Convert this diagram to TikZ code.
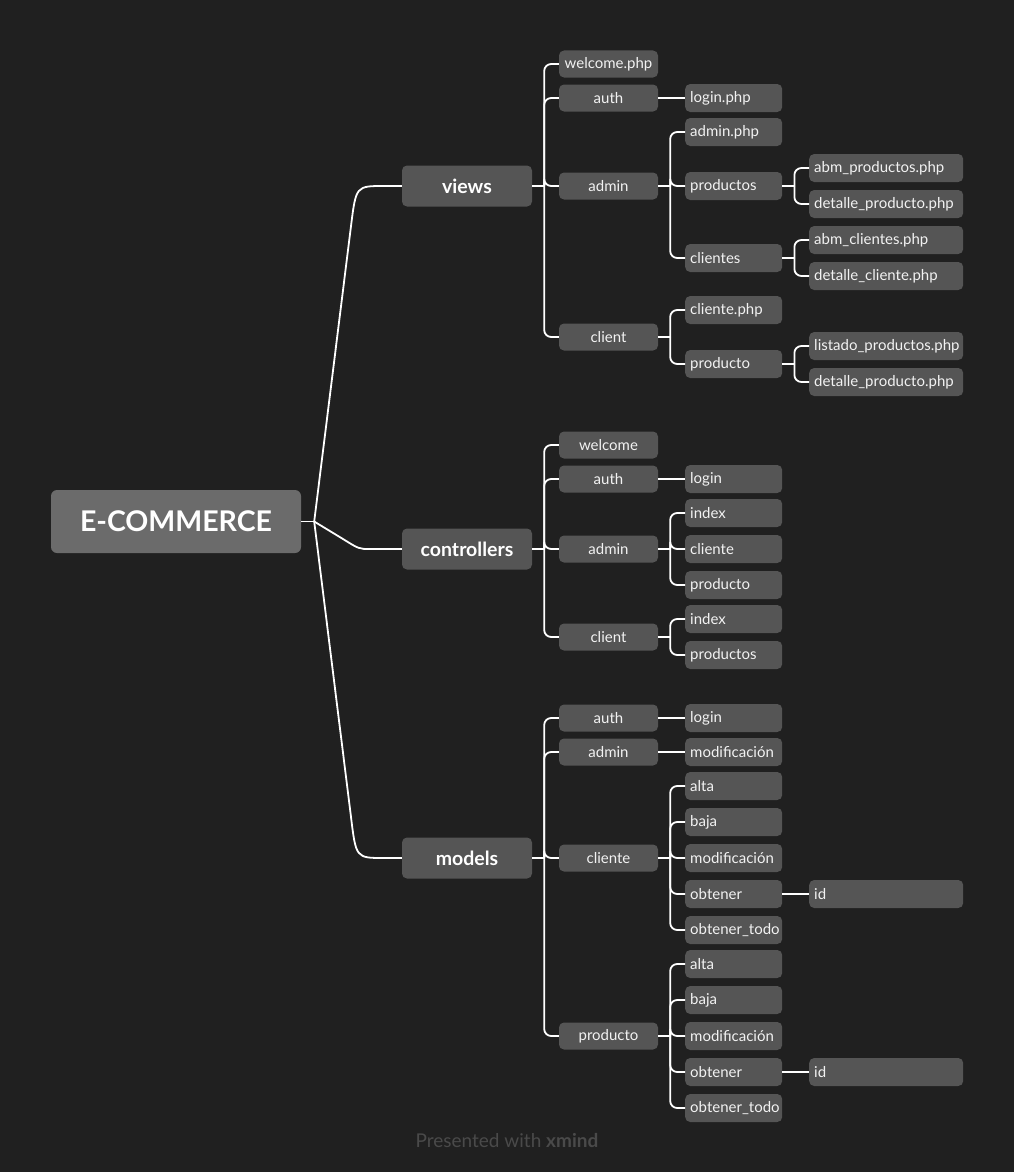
\documentclass[tikz,border=0pt]{standalone}
\usepackage{fontspec}
\setmainfont{Lato}
\usetikzlibrary{calc}
\definecolor{bgc}{HTML}{202020}
\definecolor{rootc}{HTML}{6B6B6B}
\definecolor{boxc}{HTML}{555555}
\definecolor{footc}{HTML}{4A4A4A}
\definecolor{txtc}{HTML}{F2F2F2}
\tikzset{
  rootbox/.style={fill=rootc, rounded corners=6pt, minimum width=250pt, minimum height=63pt, inner sep=0pt, text=white, font=\fontsize{28.5}{32}\selectfont\bfseries},
  lonebox/.style={fill=boxc, rounded corners=5pt, minimum width=130pt, minimum height=41pt, inner sep=0pt, text=white, font=\fontsize{19.5}{22}\selectfont\bfseries},
  ltwobox/.style={fill=boxc, rounded corners=5pt, minimum width=99pt, minimum height=27pt, inner sep=0pt, text=txtc, font=\fontsize{15}{17}\selectfont},
  lthreebox/.style={fill=boxc, rounded corners=5pt, anchor=west, text width=87pt, align=left, inner xsep=5pt, inner ysep=0pt, minimum height=28pt, text=txtc, font=\fontsize{15}{17}\selectfont},
  lfourbox/.style={lthreebox, text width=144pt},
  conn/.style={draw=white, line width=1.8pt},
}
\newcommand\branchto[2]{%
  \coordinate (#1-j) at ([xshift=12pt]#1.east);
  \draw[conn] (#1.east) -- (#1-j);
  \foreach \c in {#2}{\draw[conn, rounded corners=7pt] (#1-j) |- (\c.west);}
}
\newcommand\linkto[2]{\draw[conn] (#1.east) -- (#2.west);}
\begin{document}
\begin{tikzpicture}[x=1pt,y=-1pt]
\fill[bgc] (0,0) rectangle (1014,1172);
\useasboundingbox (0,0) rectangle (1014,1172);

% root and level 1
\node[rootbox] (R) at (176,521.5) {E-COMMERCE};
\node[lonebox] (V) at (467,186) {views};
\node[lonebox] (C) at (467,549) {controllers};
\node[lonebox] (M) at (467,858) {models};

% views
\node[ltwobox] (V1) at (608.5,64) {welcome.php};
\node[ltwobox] (V2) at (608.5,98) {auth};
\node[ltwobox] (V3) at (608.5,186) {admin};
\node[ltwobox] (V4) at (608.5,337) {client};
\node[lthreebox] (V2a) at (685,98) {login.php};
\node[lthreebox] (V3a) at (685,132) {admin.php};
\node[lthreebox] (V3b) at (685,186) {productos};
\node[lthreebox] (V3c) at (685,258) {clientes};
\node[lthreebox] (V4a) at (685,310) {cliente.php};
\node[lthreebox] (V4b) at (685,364) {producto};
\node[lfourbox] (V3b1) at (809,168) {abm\_productos.php};
\node[lfourbox] (V3b2) at (809,204) {detalle\_producto.php};
\node[lfourbox] (V3c1) at (809,240) {abm\_clientes.php};
\node[lfourbox] (V3c2) at (809,276) {detalle\_cliente.php};
\node[lfourbox] (V4b1) at (809,346) {listado\_productos.php};
\node[lfourbox] (V4b2) at (809,382) {detalle\_producto.php};

% controllers
\node[ltwobox] (C1) at (608.5,445) {welcome};
\node[ltwobox] (C2) at (608.5,479) {auth};
\node[ltwobox] (C3) at (608.5,549) {admin};
\node[ltwobox] (C4) at (608.5,637) {client};
\node[lthreebox] (C2a) at (685,479) {login};
\node[lthreebox] (C3a) at (685,513) {index};
\node[lthreebox] (C3b) at (685,549) {cliente};
\node[lthreebox] (C3c) at (685,585) {producto};
\node[lthreebox] (C4a) at (685,619) {index};
\node[lthreebox] (C4b) at (685,655) {productos};

% models
\node[ltwobox] (M1) at (608.5,718) {auth};
\node[ltwobox] (M2) at (608.5,752) {admin};
\node[ltwobox] (M3) at (608.5,858) {cliente};
\node[ltwobox] (M4) at (608.5,1036) {producto};
\node[lthreebox] (M1a) at (685,718) {login};
\node[lthreebox] (M2a) at (685,752) {modificación};
\node[lthreebox] (M3a) at (685,786) {alta};
\node[lthreebox] (M3b) at (685,822) {baja};
\node[lthreebox] (M3c) at (685,858) {modificación};
\node[lthreebox] (M3d) at (685,894) {obtener};
\node[lthreebox] (M3e) at (685,930) {obtener\_todo};
\node[lfourbox] (M3d1) at (809,894) {id};
\node[lthreebox] (M4a) at (685,964) {alta};
\node[lthreebox] (M4b) at (685,1000) {baja};
\node[lthreebox] (M4c) at (685,1036) {modificación};
\node[lthreebox] (M4d) at (685,1072) {obtener};
\node[lthreebox] (M4e) at (685,1108) {obtener\_todo};
\node[lfourbox] (M4d1) at (809,1072) {id};

% root connectors
\coordinate (Rj) at ([xshift=13pt]R.east);
\draw[conn] (R.east) -- (Rj);
\draw[conn] (Rj) -- (351,226) .. controls (356,186) .. (384,186) -- (V.west);
\draw[conn] (Rj) -- (343,539) .. controls (359,549) .. (370,549) -- (C.west);
\draw[conn] (Rj) -- (351,817) .. controls (356,858) .. (384,858) -- (M.west);

% branches
\branchto{V}{V1,V2,V3,V4}
\linkto{V2}{V2a}
\branchto{V3}{V3a,V3b,V3c}
\branchto{V3b}{V3b1,V3b2}
\branchto{V3c}{V3c1,V3c2}
\branchto{V4}{V4a,V4b}
\branchto{V4b}{V4b1,V4b2}

\branchto{C}{C1,C2,C3,C4}
\linkto{C2}{C2a}
\branchto{C3}{C3a,C3b,C3c}
\branchto{C4}{C4a,C4b}

\branchto{M}{M1,M2,M3,M4}
\linkto{M1}{M1a}
\linkto{M2}{M2a}
\branchto{M3}{M3a,M3b,M3c,M3d,M3e}
\linkto{M3d}{M3d1}
\branchto{M4}{M4a,M4b,M4c,M4d,M4e}
\linkto{M4d}{M4d1}

% footer
\node[text=footc, font=\fontsize{19}{22}\selectfont] (foot) at (507,1141) {Presented with \textbf{xmind}};
\end{tikzpicture}
\end{document}
